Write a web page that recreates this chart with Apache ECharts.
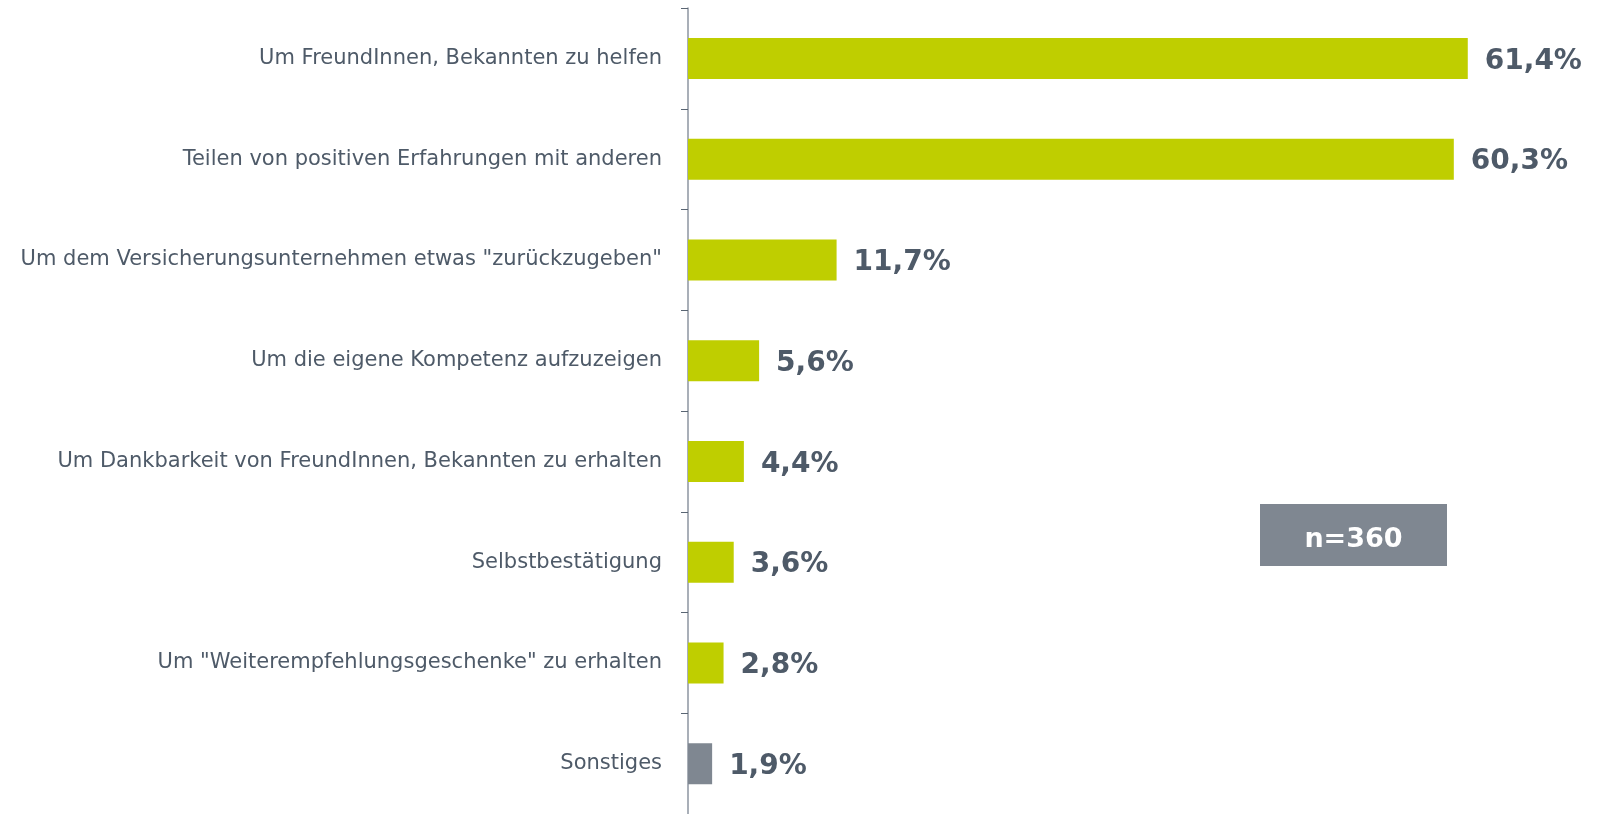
<!DOCTYPE html>
<html>
<head>
    <meta charset="utf-8">
    <title>Gründe für Weiterempfehlung</title>
    <script src="https://cdn.jsdelivr.net/npm/echarts@6/dist/echarts.min.js"></script>
    <style>
        html, body { margin: 0; padding: 0; background: #ffffff; }
        #chart { width: 1597px; height: 814px; }
    </style>
</head>
<body>
<div id="chart"></div>
<script>
    // Daten (von oben nach unten)
    var categories = [
        'Um FreundInnen, Bekannten zu helfen',
        'Teilen von positiven Erfahrungen mit anderen',
        'Um dem Versicherungsunternehmen etwas "zurückzugeben"',
        'Um die eigene Kompetenz aufzuzeigen',
        'Um Dankbarkeit von FreundInnen, Bekannten zu erhalten',
        'Selbstbestätigung',
        'Um "Weiterempfehlungsgeschenke" zu erhalten',
        'Sonstiges'
    ];
    var values = [61.4, 60.3, 11.7, 5.6, 4.4, 3.6, 2.8, 1.9];
    var sampleNote = 'n=360';

    var green = '#bfce00';
    var grey = '#7f8791';
    var textColor = '#4e5a68';

    var chart = echarts.init(document.getElementById('chart'));

    var barData = values.map(function (v, i) {
        return {
            value: v,
            itemStyle: { color: categories[i] === 'Sonstiges' ? grey : green }
        };
    });

    chart.setOption({
        animation: false,
        grid: {
            left: 688,
            top: 8,
            width: 889,
            height: 807,
            containLabel: false
        },
        xAxis: {
            type: 'value',
            min: 0,
            max: 70,
            show: false
        },
        yAxis: {
            type: 'category',
            inverse: true,
            data: categories,
            axisLine: { show: true, lineStyle: { color: '#8c95a0', width: 1.5 } },
            axisTick: { show: true, length: 7, lineStyle: { color: '#5a6573', width: 1 } },
            axisLabel: {
                margin: 26,
                color: textColor,
                fontFamily: 'DejaVu Sans',
                fontSize: 21,
                padding: [4, 0, 0, 0]
            }
        },
        series: [{
            type: 'bar',
            data: barData,
            barWidth: 41,
            label: {
                show: true,
                position: 'right',
                distance: 17,
                offset: [0, 3],
                color: textColor,
                fontFamily: 'DejaVu Sans',
                fontWeight: 'bold',
                fontSize: 28
            }
        }],
        graphic: [{
            type: 'group',
            left: 1260,
            top: 504,
            children: [{
                type: 'rect',
                shape: { x: 0, y: 0, width: 187, height: 62 },
                style: { fill: grey }
            }, {
                type: 'text',
                x: 93.5,
                y: 36,
                style: {
                    text: sampleNote,
                    fill: '#ffffff',
                    font: 'bold 27px "DejaVu Sans"',
                    align: 'center',
                    verticalAlign: 'middle'
                }
            }]
        }]
    });

    // Prozentwerte mit Dezimalkomma
    chart.setOption({
        series: [{
            label: {
                formatter: function (p) {
                    return p.value.toFixed(1).replace('.', ',') + '%';
                }
            }
        }]
    });
</script>
</body>
</html>
